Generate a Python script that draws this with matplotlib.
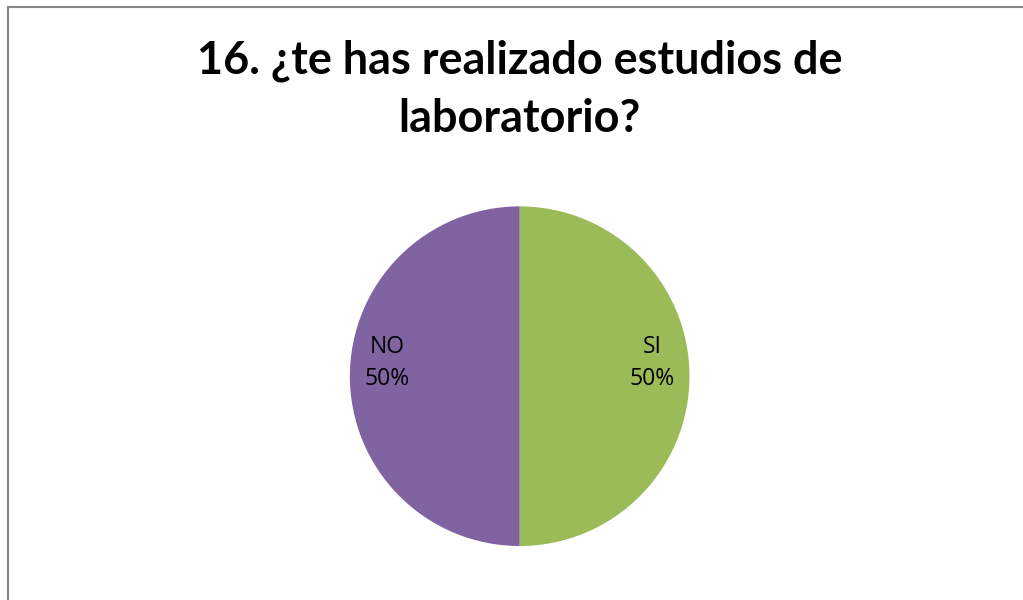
import matplotlib
matplotlib.use("Agg")
import matplotlib.pyplot as plt
from matplotlib.lines import Line2D

# data
labels = ["SI", "NO"]
values = [50, 50]
colors = ["#9BBB59", "#8064A2"]
title_lines = ["16. ¿te has realizado estudios de", "laboratorio?"]

plt.rcParams['font.family'] = ['Lato', 'DejaVu Sans']

fig = plt.figure(figsize=(10.23, 6.0), dpi=100)

# grey frame (only top and left visible in the reference crop)
fig.add_artist(Line2D([0.0083, 0.0083], [0.0, 0.989], color="#868686", lw=1.5))
fig.add_artist(Line2D([0.0083, 1.0], [0.989, 0.989], color="#868686", lw=1.5))

for i, line in enumerate(title_lines):
    fig.text(0.508, 0.898 - i * 0.097, line, ha="center", va="center",
             fontsize=32.4, fontweight="bold")

ax = fig.add_axes([0.508 - 0.166, 0.373 - 0.2835, 0.332, 0.567])
total = sum(values)
texts = [f"{l}\n{v * 100 // total}%" for l, v in zip(labels, values)]
wedges, lbls = ax.pie(values, colors=colors, startangle=90, counterclock=False,
                      labels=texts, labeldistance=0.78,
                      wedgeprops=dict(linewidth=0),
                      textprops=dict(fontsize=16.5, ha="center", va="center",
                                     linespacing=1.45,
                                     family=['Open Sans', 'DejaVu Sans']))
for t in lbls:
    x, y = t.get_position()
    t.set_position((x, y + 0.08))
ax.set_xlim(-1, 1)
ax.set_ylim(-1, 1)
ax.set_aspect("equal")

fig.savefig("out.png", dpi=100)
